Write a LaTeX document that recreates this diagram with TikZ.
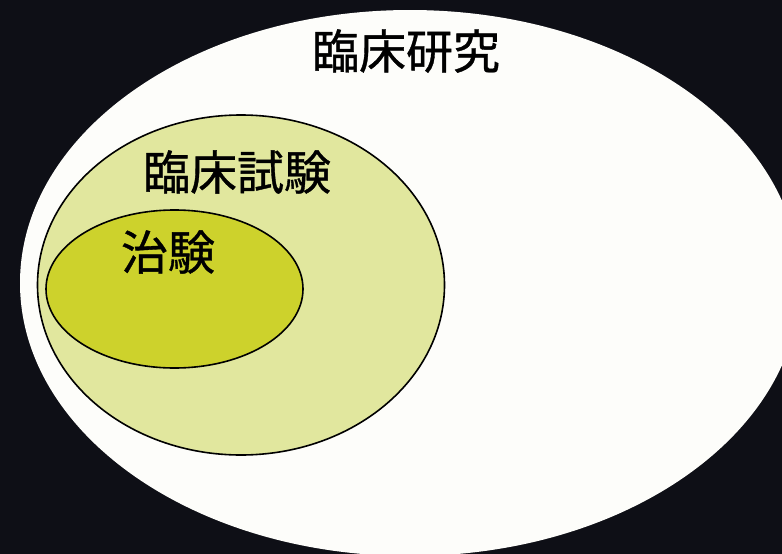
\documentclass[tikz,border=0pt]{standalone}
\usepackage{fontspec}
\newfontfamily\cjk[FakeBold=0.8]{Noto Sans CJK JP}
\definecolor{bgblack}{HTML}{0E0F16}
\definecolor{outerwhite}{HTML}{FDFDFA}
\definecolor{lightgreen}{HTML}{E1E79E}
\definecolor{yellowgreen}{HTML}{CDD22C}
\tikzset{
  ring/.style={draw=black, line width=1.6pt},
  lbl/.style={font=\cjk\fontsize{47}{50}\selectfont, text=black, inner sep=0pt}
}
\begin{document}
\begin{tikzpicture}[x=1pt,y=-1pt]
\useasboundingbox (0,0) rectangle (782,554);
\fill[bgblack] (0,0) rectangle (782,554);
\clip (0,0) rectangle (782,554);
\fill[outerwhite] (410,283) ellipse [x radius=390, y radius=273];
\filldraw[ring, fill=lightgreen] (241,285) ellipse [x radius=203.5, y radius=170];
\filldraw[ring, fill=yellowgreen] (174.5,289) ellipse [x radius=128.5, y radius=79];
\node[lbl] (kenkyu) at (406,51) {臨床研究};
\node[lbl] (shiken) at (237,172) {臨床試験};
\node[lbl] (chiken) at (168,252) {治験};
\end{tikzpicture}
\end{document}
